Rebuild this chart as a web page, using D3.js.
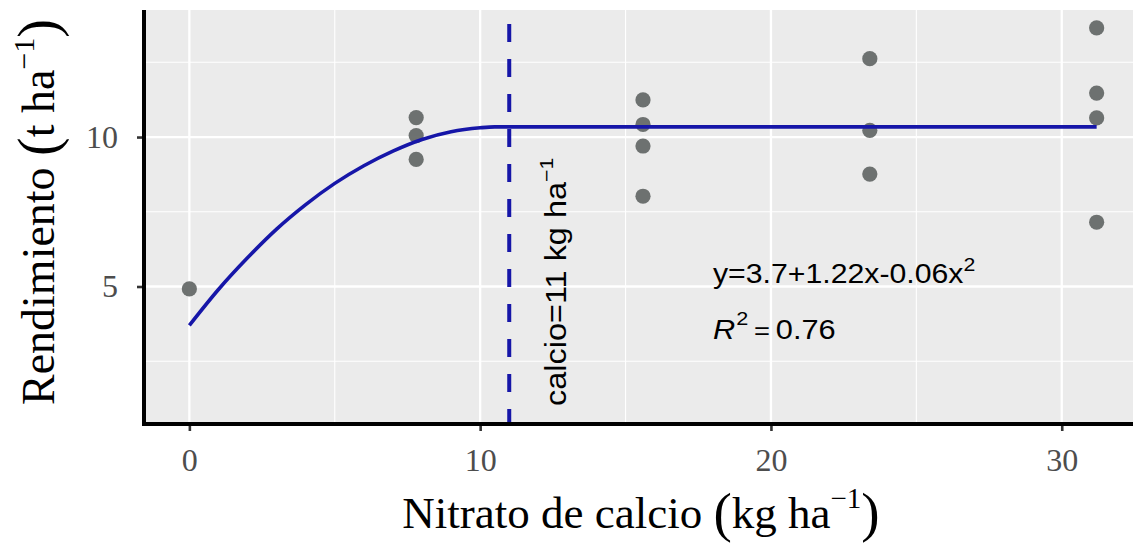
<!DOCTYPE html>
<meta charset="utf-8">
<head>
    <title>Rendimiento vs nitrato de calcio</title>
    <script type="text/javascript" src="https://cdnjs.cloudflare.com/ajax/libs/d3/7.8.5/d3.min.js"></script>
    <style>
        body { margin: 0; background: #fff; }
        .tick text { font-family: "Liberation Serif", serif; fill: #4d4d4d; }
    </style>
</head>
<body>
<script>
    // observed points (kg ha-1, t ha-1)
    var doseValues  = [0, 7.8, 7.8, 7.8, 15.6, 15.6, 15.6, 15.6, 23.4, 23.4, 23.4, 31.2, 31.2, 31.2, 31.2];
    var yieldValues = [4.92, 10.65, 10.05, 9.25, 11.24, 10.42, 9.70, 8.02, 12.62, 10.22, 8.76, 13.65, 11.47, 10.64, 7.15];

    // fitted quadratic-plateau line
    var fitX = [0, 1, 2, 3, 4, 5, 6, 7, 8, 9, 10, 10.5, 31.2];
    var fitY = [3.7, 4.9, 5.96, 6.92, 7.74, 8.45, 9.04, 9.53, 9.92, 10.18, 10.31, 10.34, 10.34];

    var optimumDose = 11;

    var xTicks = [0, 10, 20, 30];
    var xMinor = [5, 15, 25];
    var yTicks = [5, 10];
    var yMinor = [2.5, 7.5, 12.5];

    var width = 1133, height = 544;
    var margin = {top: 10, right: -9, bottom: 120, left: 144};

    var svg = d3.select('body').append('svg')
        .attr('width', width)
        .attr('height', height);

    var x = d3.scaleLinear().domain([-1.56, 32.76]).range([margin.left, width - margin.right]);
    var y = d3.scaleLinear().domain([0.40, 14.25]).range([height - margin.bottom, margin.top]);

    var x0 = x.range()[0], x1 = x.range()[1], yb = y.range()[0], yt = y.range()[1];

    // panel
    svg.append('rect')
        .attr('x', x0).attr('y', yt)
        .attr('width', x1 - x0).attr('height', yb - yt)
        .attr('fill', '#ebebeb');

    // grid
    var grid = svg.append('g');
    grid.selectAll('.vminor').data(xMinor).enter().append('line')
        .attr('x1', d => x(d)).attr('x2', d => x(d)).attr('y1', yt).attr('y2', yb)
        .attr('stroke', '#fff').attr('stroke-width', 1.1);
    grid.selectAll('.hminor').data(yMinor).enter().append('line')
        .attr('y1', d => y(d)).attr('y2', d => y(d)).attr('x1', x0).attr('x2', x1)
        .attr('stroke', '#fff').attr('stroke-width', 1.1);
    grid.selectAll('.vmajor').data(xTicks).enter().append('line')
        .attr('x1', d => x(d)).attr('x2', d => x(d)).attr('y1', yt).attr('y2', yb)
        .attr('stroke', '#fff').attr('stroke-width', 2.3);
    grid.selectAll('.hmajor').data(yTicks).enter().append('line')
        .attr('y1', d => y(d)).attr('y2', d => y(d)).attr('x1', x0).attr('x2', x1)
        .attr('stroke', '#fff').attr('stroke-width', 2.3);

    // points
    svg.append('g').selectAll('circle')
        .data(doseValues)
        .enter().append('circle')
        .attr('cx', d => x(d))
        .attr('cy', (d, i) => y(yieldValues[i]))
        .attr('r', 7.6)
        .attr('fill', '#626665')
        .attr('fill-opacity', 0.92);

    // fitted line
    var line = d3.line()
        .x((d, i) => x(fitX[i]))
        .y(d => y(d))
        .curve(d3.curveMonotoneX);

    svg.append('path')
        .datum(fitY)
        .attr('d', line)
        .attr('fill', 'none')
        .attr('stroke', '#1616a8')
        .attr('stroke-width', 3.6);

    // optimum dose
    svg.append('line')
        .attr('x1', x(optimumDose)).attr('x2', x(optimumDose))
        .attr('y1', yb).attr('y2', yt)
        .attr('stroke', '#1616a8')
        .attr('stroke-width', 4)
        .attr('stroke-dasharray', '18,17')
        .attr('stroke-dashoffset', 3);

    // axes
    var xAxis = svg.append('g')
        .attr('transform', 'translate(0,' + yb + ')')
        .call(d3.axisBottom(x).tickValues(xTicks).tickSize(7).tickPadding(17).tickFormat(d3.format('d')));
    var yAxis = svg.append('g')
        .attr('transform', 'translate(' + x0 + ',0)')
        .call(d3.axisLeft(y).tickValues(yTicks).tickSize(7).tickPadding(19).tickFormat(d3.format('d')));

    [xAxis, yAxis].forEach(function(a){
        a.select('.domain').remove();
        a.selectAll('.tick line').attr('stroke', '#333').attr('stroke-width', 2.6);
        a.selectAll('.tick text').attr('font-size', 32);
    });

    svg.append('line').attr('x1', x0).attr('x2', x0).attr('y1', yt).attr('y2', yb + 2)
        .attr('stroke', '#000').attr('stroke-width', 4);
    svg.append('line').attr('x1', x0 - 2).attr('x2', x1).attr('y1', yb).attr('y2', yb)
        .attr('stroke', '#000').attr('stroke-width', 4);

    // axis titles
    var xt = svg.append('text')
        .attr('x', 641).attr('y', 528)
        .attr('text-anchor', 'middle')
        .attr('font-family', 'Liberation Serif, serif')
        .attr('font-size', 45)
        .attr('fill', '#000');
    xt.append('tspan').text('Nitrato de calcio ');
    xt.append('tspan').attr('font-size', 55).attr('dy', 3).text('(');
    xt.append('tspan').attr('dy', -3).text('kg ha');
    xt.append('tspan').attr('font-size', 29).attr('dy', -20).text('\u22121');
    xt.append('tspan').attr('font-size', 55).attr('dy', 23).text(')');

    var yt2 = svg.append('text')
        .attr('transform', 'translate(54,212) rotate(-90)')
        .attr('text-anchor', 'middle')
        .attr('font-family', 'Liberation Serif, serif')
        .attr('font-size', 46)
        .attr('fill', '#000');
    yt2.append('tspan').text('Rendimiento ');
    yt2.append('tspan').attr('font-size', 56).attr('dy', 3).text('(');
    yt2.append('tspan').attr('dy', -3).text('t ha');
    yt2.append('tspan').attr('font-size', 30).attr('dy', -20).text('\u22121');
    yt2.append('tspan').attr('font-size', 56).attr('dy', 23).text(')');

    // annotations
    var lab = svg.append('text')
        .attr('transform', 'translate(566,406) rotate(-90) scale(1.12,1)')
        .attr('font-family', 'Liberation Sans, Arial, sans-serif')
        .attr('font-size', 29)
        .attr('fill', '#000');
    lab.append('tspan').text('calcio=11 kg ha');
    lab.append('tspan').attr('font-size', 19).attr('dy', -13).text('\u22121');

    var eq = svg.append('text')
        .attr('transform', 'translate(713,283) scale(1.12,1)')
        .attr('font-family', 'Liberation Sans, Arial, sans-serif')
        .attr('font-size', 27)
        .attr('fill', '#000');
    eq.append('tspan').text('y=3.7+1.22x-0.06x');
    eq.append('tspan').attr('font-size', 19).attr('dy', -12).text('2');

    var r2 = svg.append('text')
        .attr('transform', 'translate(713,339) scale(1.14,1)')
        .attr('font-family', 'Liberation Sans, Arial, sans-serif')
        .attr('font-size', 27)
        .attr('fill', '#000');
    r2.append('tspan').attr('font-style', 'italic').text('R');
    r2.append('tspan').attr('font-size', 19).attr('dy', -14).attr('dx', 1).text('2');
    r2.append('tspan').attr('dy', 14).attr('dx', 5).attr('font-size', 24).text('=');
    r2.append('tspan').attr('dx', 5).text('0.76');
</script>
</body>
</html>
